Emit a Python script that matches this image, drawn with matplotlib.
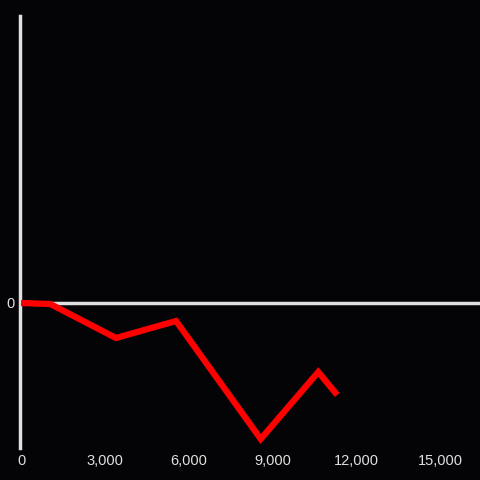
import matplotlib
matplotlib.use("Agg")
import matplotlib.pyplot as plt
from matplotlib.ticker import FuncFormatter

x_vals = [0, 1050, 3400, 5550, 8580, 10640, 11320]
y_vals = [0, -1, -35, -18, -136, -69, -92]
x_ticks = [0, 3000, 6000, 9000, 12000, 15000]
y_ticks = [0]

bg = "#040305"
fg = "#e0e0e0"

fig = plt.figure(figsize=(4.8, 4.8), dpi=100, facecolor=bg)
ax = fig.add_axes([20/480, 32/480, 460/480, 432/480], facecolor=bg)

ax.axhline(0, color=fg, lw=2.5, zorder=1)
ax.plot(x_vals, y_vals, color="#ff0000", lw=4.5, solid_joinstyle="miter",
        solid_capstyle="butt", zorder=3)

ax.set_xlim(-36, 16430)
ax.set_ylim(-145, 287)
ax.set_xticks(x_ticks)
ax.set_yticks(y_ticks)
ax.xaxis.set_major_formatter(FuncFormatter(lambda v, p: f"{int(v):,}"))
ax.tick_params(axis="both", length=0, colors=fg, labelsize=10.5)
ax.tick_params(axis="x", pad=4.5)
ax.tick_params(axis="y", pad=4)
for lab in ax.get_xticklabels() + ax.get_yticklabels():
    lab.set_fontfamily("Liberation Sans")

for s in ["top", "right", "bottom"]:
    ax.spines[s].set_visible(False)
ax.spines["left"].set_color(fg)
ax.spines["left"].set_linewidth(2.5)

fig.savefig("out.png", dpi=100, facecolor=bg)
